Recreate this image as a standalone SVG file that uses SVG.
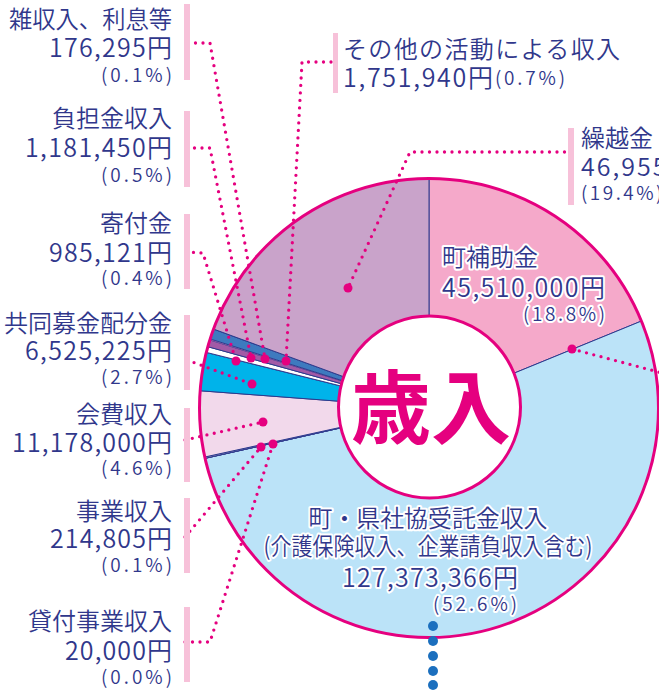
<svg xmlns="http://www.w3.org/2000/svg" width="659" height="694" viewBox="0 0 659 694">
<style>
text{font-family:"Noto Sans CJK JP","Noto Sans",sans-serif;fill:#30378b;font-weight:350}
.l1{font-size:24px}
.l2{font-size:25px}
.l3{font-size:19px}
.r{text-anchor:end}
.m{text-anchor:middle}
.halo{stroke:#fff;stroke-width:4;stroke-linejoin:round;paint-order:stroke}
.bar{fill:#f7c1d9}
.seg{stroke:#2d3a8d;stroke-width:1;stroke-linejoin:round}
.lead{fill:none;stroke:#e5007f;stroke-width:3.3;stroke-linecap:round;stroke-linejoin:round;stroke-dasharray:0 7.5}
.end{fill:#e5007f}
.bdot{fill:#1b6fbe}
</style>
<rect width="659" height="694" fill="#fff"/>
<g id="pie">
<path class="seg" fill="#f5a9ca" d="M429,408 L429,178.5 A229.5,229.5 0 0 1 641.40,321.06 Z"/>
<path class="seg" fill="#bbe3f8" d="M429,408 L641.40,321.06 A229.5,229.5 0 1 1 205.10,458.38 Z"/>
<path class="seg" fill="#bbe3f8" d="M429,408 L205.10,458.38 A229.5,229.5 0 0 1 205.07,458.26 Z"/>
<path class="seg" fill="#f2d9eb" d="M429,408 L205.07,458.26 A229.5,229.5 0 0 1 204.79,457.01 Z"/>
<path class="seg" fill="#f2d9eb" d="M429,408 L204.79,457.01 A229.5,229.5 0 0 1 200.15,390.75 Z"/>
<path class="seg" fill="#00b3ea" d="M429,408 L200.15,390.75 A229.5,229.5 0 0 1 206.34,352.40 Z"/>
<path class="seg" fill="#ffffff" d="M429,408 L206.34,352.40 A229.5,229.5 0 0 1 207.84,346.71 Z"/>
<path class="seg" fill="#a25aa6" d="M429,408 L207.84,346.71 A229.5,229.5 0 0 1 209.82,339.94 Z"/>
<path fill="#a25aa6" d="M429,408 L209.82,339.94 A229.5,229.5 0 0 1 210.13,338.95 Z"/>
<path class="seg" fill="#3e7abf" d="M429,408 L210.13,338.95 A229.5,229.5 0 0 1 213.50,329.05 Z"/>
<path class="seg" fill="#c9a3ca" d="M429,408 L213.50,329.05 A229.5,229.5 0 0 1 429,178.5 Z"/>
<circle cx="429" cy="408" r="229.5" fill="none" stroke="#e5007f" stroke-width="3"/>
<circle cx="429.5" cy="407" r="91" fill="#fff" stroke="#e5007f" stroke-width="3"/>
<text x="431" y="437" class="m" style="font-size:80px;font-weight:bold;fill:#e5007f">歳入</text>
</g>
<g id="connectors">
<polyline class="lead" points="188,43 210,43 265,359"/>
<polyline class="lead" points="187,148 210,148 251,358"/>
<polyline class="lead" points="186,252 203,253 236,361"/>
<polyline class="lead" points="331,62 302,62 286,361"/>
<polyline class="lead" points="572,152 410,152 348,288"/>
<polyline class="lead" points="572,349 666,374"/>
<polyline class="lead" points="187,360 252,384"/>
<polyline class="lead" points="185,440 263,422"/>
<polyline class="lead" points="185,537 261,447"/>
<polyline class="lead" points="185,642 210,642 273,444"/>
<circle class="end" cx="265" cy="359" r="4.5"/>
<circle class="end" cx="251" cy="358" r="4.5"/>
<circle class="end" cx="236" cy="361" r="4.5"/>
<circle class="end" cx="286" cy="361" r="4.5"/>
<circle class="end" cx="348" cy="288" r="4.5"/>
<circle class="end" cx="572" cy="349" r="4.5"/>
<circle class="end" cx="252" cy="384" r="4.5"/>
<circle class="end" cx="263" cy="422" r="4.5"/>
<circle class="end" cx="261" cy="447" r="4.5"/>
<circle class="end" cx="273" cy="444" r="4.5"/>
<circle class="bdot" cx="433" cy="626" r="5"/>
<circle class="bdot" cx="433" cy="641" r="5"/>
<circle class="bdot" cx="433" cy="656" r="5"/>
<circle class="bdot" cx="433" cy="671" r="5"/>
<circle class="bdot" cx="433" cy="685" r="5"/>
</g>
<g id="label-zatsu">
<rect class="bar" x="184" y="4" width="6" height="76"/>
<text class="l1 r" x="172" y="28" textLength="163" lengthAdjust="spacingAndGlyphs">雑収入、利息等</text>
<text class="l2 r" x="172" y="57" textLength="123" lengthAdjust="spacing">176,295円</text>
<text class="l3 r" x="172" y="82" textLength="71" lengthAdjust="spacing">(0.1%)</text>
</g>
<g id="label-futan">
<rect class="bar" x="184" y="111" width="6" height="76"/>
<text class="l1 r" x="172" y="127">負担金収入</text>
<text class="l2 r" x="172" y="157" textLength="147" lengthAdjust="spacing">1,181,450円</text>
<text class="l3 r" x="172" y="182" textLength="71" lengthAdjust="spacing">(0.5%)</text>
</g>
<g id="label-kifu">
<rect class="bar" x="184" y="214" width="6" height="75"/>
<text class="l1 r" x="172" y="232">寄付金</text>
<text class="l2 r" x="172" y="262" textLength="123" lengthAdjust="spacing">985,121円</text>
<text class="l3 r" x="172" y="285" textLength="71" lengthAdjust="spacing">(0.4%)</text>
</g>
<g id="label-kyodo">
<rect class="bar" x="184" y="315" width="6" height="75"/>
<text class="l1 r" x="172" y="332">共同募金配分金</text>
<text class="l2 r" x="172" y="360" textLength="147" lengthAdjust="spacing">6,525,225円</text>
<text class="l3 r" x="172" y="384" textLength="71" lengthAdjust="spacing">(2.7%)</text>
</g>
<g id="label-kaihi">
<rect class="bar" x="184" y="408" width="6" height="74"/>
<text class="l1 r" x="172" y="423">会費収入</text>
<text class="l2 r" x="172" y="452" textLength="160" lengthAdjust="spacing">11,178,000円</text>
<text class="l3 r" x="172" y="475" textLength="71" lengthAdjust="spacing">(4.6%)</text>
</g>
<g id="label-jigyo">
<rect class="bar" x="184" y="498" width="6" height="75"/>
<text class="l1 r" x="172" y="520">事業収入</text>
<text class="l2 r" x="172" y="548" textLength="122" lengthAdjust="spacing">214,805円</text>
<text class="l3 r" x="172" y="572" textLength="71" lengthAdjust="spacing">(0.1%)</text>
</g>
<g id="label-kashitsuke">
<rect class="bar" x="184" y="607" width="6" height="75"/>
<text class="l1 r" x="172" y="630">貸付事業収入</text>
<text class="l2 r" x="172" y="660" textLength="107" lengthAdjust="spacing">20,000円</text>
<text class="l3 r" x="172" y="684" textLength="71" lengthAdjust="spacing">(0.0%)</text>
</g>
<g id="label-sonota">
<rect class="bar" x="333" y="33" width="5" height="60"/>
<text class="l1" x="343" y="58" textLength="277" lengthAdjust="spacing">その他の活動による収入</text>
<text class="l2" x="343" y="87" textLength="150" lengthAdjust="spacing">1,751,940円</text>
<text class="l3" x="495" y="85" textLength="70" lengthAdjust="spacing">(0.7%)</text>
</g>
<g id="label-kurikoshi">
<rect class="bar" x="568" y="128" width="6" height="77"/>
<text class="l1" x="581" y="147">繰越金</text>
<text class="l2" x="581" y="176" style="letter-spacing:2px">46,955</text>
<text class="l3" x="581" y="200" style="letter-spacing:2.5px">(19.4%)</text>
</g>
<g id="label-machi">
<text class="l1 halo" x="442" y="266">町補助金</text>
<text class="l2 halo" x="442" y="297" textLength="163" lengthAdjust="spacing">45,510,000円</text>
<text class="l3 halo r" x="605" y="321" textLength="82" lengthAdjust="spacing">(18.8%)</text>
</g>
<g id="label-itaku">
<text class="l1 halo m" x="428" y="527" textLength="239" lengthAdjust="spacingAndGlyphs">町・県社協受託金収入</text>
<text class="l1 halo m" x="428" y="555" textLength="329" lengthAdjust="spacingAndGlyphs">(介護保険収入、企業請負収入含む)</text>
<text class="l2 halo m" x="430" y="587" textLength="176" lengthAdjust="spacing">127,373,366円</text>
<text class="l3 halo r" x="517" y="611" textLength="84" lengthAdjust="spacing">(52.6%)</text>
</g>
</svg>
